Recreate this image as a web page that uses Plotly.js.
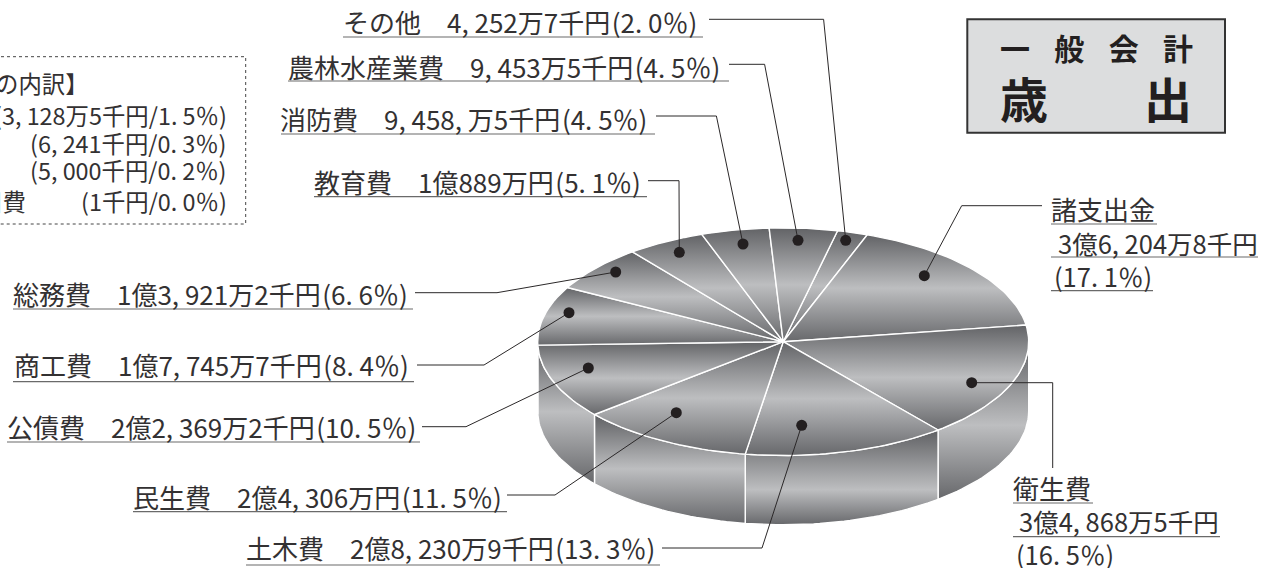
<!DOCTYPE html>
<html><head><meta charset="utf-8">
<script src="https://cdn.plot.ly/plotly-3.0.1.min.js"></script>
<style>html,body{margin:0;padding:0;background:#fff;overflow:hidden}</style>
</head><body><div id="chart" style="width:1273px;height:568px"></div>
<script>
// ---- data (clockwise from the top) ----
const categories = ["その他","諸支出金","衛生費","土木費","民生費","公債費","商工費","総務費","教育費","消防費","農林水産業費"];
const amounts = [4252.7,36204.8,34868.5,28230.9,24306,22369.2,17745.7,13921.2,10889,9458.5,9453.5];
const labelTexts = [
 "その他　4, 252万7千円\u200a(2. 0％)",
 null,null,
 "土木費　2億8, 230万9千円\u200a(13. 3％)",
 "民生費　2億4, 306万円\u200a(11. 5％)",
 "公債費　2億2, 369万2千円\u200a(10. 5％)",
 "商工費　1億7, 745万7千円\u200a(8. 4％)",
 "総務費　1億3, 921万2千円\u200a(6. 6％)",
 "教育費　1億889万円\u200a(5. 1％)",
 "消防費　9, 458, 万5千円\u200a(4. 5％)",
 "農林水産業費　9, 453万5千円\u200a(4. 5％)"
];
const stackedLabels = {
 1:["諸支出金","3億6, 204万8千円","(17. 1％)"],
 2:["衛生費","3億4, 868万5千円","(16. 5％)"]
};
const breakdownHead = "の内訳】";
const breakdownLines = ["(3, 128万5千円/1. 5％)","(6, 241千円/0. 3％)","(5, 000千円/0. 2％)","(1千円/0. 0％)"];
const breakdownTail = "旧費";

// ---- page geometry (pixels) ----
const cx=783.2, cy=341.7, rx=245.5, ry=113.8, depth=69.3, startDeg=77.2;
const ink="#2b2829", rule="#6a6a6a";
const textPos = [[343,21],null,null,[246,547],[133,496],[7,426],[14,364],[13,293],[314,181],[280,118],[288,66]];
const textSize = [26,0,0,26,26,26,26,26,26,26,26];
const underlines = [[343,703,37],null,null,[246,660,565],[133,507,511.7],[7,420,442],[13,414,381.7],[13,413,309],[314,647,196.7],[281,655,134],[288,729,81]];
const leaders = [
 [[709,823.6,845.7],[19.3,19.3,240.3]],
 [[1042,961.7,924.3],[205.7,205.7,275.7]],
 [[971.7,1052.7,1052.7],[382.7,382.7,468]],
 [[662,762,801.7],[548,548,425.3]],
 [[507,555,676.3],[495,495,412.7]],
 [[422,466,588.3],[426.7,426.7,368]],
 [[417,484,569],[365,365,312.7]],
 [[415,497,615.7],[292.7,292.7,272]],
 [[648,679,679.3],[180.7,180.7,252.3]],
 [[656,716.4,743],[116,116,244]],
 [[729,764.6,798],[64.3,64.3,240.3]]
];
const dots = leaders.map((l,i)=> i===2 ? [l[0][0],l[1][0]] : [l[0][2],l[1][2]]);
const stackPos = {1:[1051,[208,242,275],[[1051,1157,224],[1051,1258,257],[1051,1153,290.7]],[1051,1058,1054]],
                  2:[1013,[487,520,553],[[1013,1093,503],[1013,1220,536.7]],[1013,1019,1016]]};
const stackSize=[26,25.5,25.5];

const faceStops=[[0,"#67686b"],[0.5,"#bdbec0"],[1,"#626366"]];
const wallStops=l=>[[0,"#67686b"],[l,"#bdbec0"],[1,"#5f6063"]];

const total = amounts.reduce((a,b)=>a+b,0);
const pt = (deg)=>[cx+rx*Math.cos(deg*Math.PI/180), cy-ry*Math.sin(deg*Math.PI/180)];
function arc(a,b){const n=Math.max(2,Math.ceil(Math.abs(a-b)/1.5));const o=[];for(let i=0;i<=n;i++)o.push(pt(a+(b-a)*i/n));return o;}

const traces=[];
const bounds=[startDeg];
amounts.forEach(v=>bounds.push(bounds[bounds.length-1]-v/total*360));

const wallBand={2:0.47,3:0.37,4:0.5,5:0.52};
for(let i=0;i<amounts.length;i++){
  let a=Math.min(bounds[i],0), b=Math.max(bounds[i+1],-180);
  if(a<=b) continue;
  const top=arc(a,b), bot=top.slice().reverse().map(p=>[p[0],p[1]+depth]);
  const poly=top.concat(bot); poly.push(top[0]);
  traces.push({type:"scatter",mode:"lines",x:poly.map(p=>p[0]),y:poly.map(p=>p[1]),fill:"toself",
    fillgradient:{type:"vertical",colorscale:wallStops(wallBand[i]||0.5)},
    line:{color:"#ffffff",width:1.4},hoverinfo:"skip"});
}
for(let i=0;i<amounts.length;i++){
  const poly=[[cx,cy]].concat(arc(bounds[i],bounds[i+1])); poly.push([cx,cy]);
  traces.push({type:"scatter",mode:"lines",name:categories[i],x:poly.map(p=>p[0]),y:poly.map(p=>p[1]),fill:"toself",
    fillgradient:{type:"vertical",colorscale:faceStops},
    line:{color:"#ffffff",width:1.4},hoverinfo:"skip"});
}
leaders.forEach(l=>traces.push({type:"scatter",mode:"lines",x:l[0],y:l[1],line:{color:ink,width:1},hoverinfo:"skip"}));
underlines.forEach(u=>{if(u)traces.push({type:"scatter",mode:"lines",x:[u[0],u[1]],y:[u[2],u[2]],line:{color:rule,width:1.2},hoverinfo:"skip"});});
Object.values(stackPos).forEach(s=>s[2].forEach(u=>traces.push({type:"scatter",mode:"lines",x:[u[0],u[1]],y:[u[2],u[2]],line:{color:rule,width:1.2},hoverinfo:"skip"})));
traces.push({type:"scatter",mode:"markers",x:dots.map(d=>d[0]),y:dots.map(d=>d[1]),marker:{size:11,color:"#231f20"},hoverinfo:"skip"});

const F="'Noto Sans CJK JP','Noto Sans',sans-serif";
const ann=[];
const T=(text,x,y,size,anchor,color)=>ann.push({text,x,y,xref:"x",yref:"y",xanchor:anchor||"left",yanchor:"middle",showarrow:false,
  font:{family:F,size,color:color||"#333132"},borderpad:0,borderwidth:0});
labelTexts.forEach((t,i)=>{if(t)T(t,textPos[i][0],textPos[i][1],textSize[i]);});
Object.keys(stackedLabels).forEach(k=>{const s=stackPos[k];stackedLabels[k].forEach((t,j)=>T(t,s[3][j],s[1][j],stackSize[j]));});
// breakdown box (runs off the left edge of the picture)
const boxY=[115,143,170,201];
T(breakdownHead,89,83,23.4,"right");
breakdownLines.forEach((t,i)=>T(t,227,boxY[i],23.4,"right"));
T(breakdownTail,26,201,23.4,"right");
// title
T("<b>一\u2002\u2005\u200a般\u2002\u2005\u200a会\u2002\u2005\u200a計</b>",1096,47,30,"center","#231f20");
T("<b>歳\u3000\u3000出</b>",1096,97,48,"center","#231f20");

const boxRight=245.7, boxTop=56.7, boxBottom=224;
const shapes=[
 {type:"path",path:`M -5 ${boxTop} L ${boxRight} ${boxTop} L ${boxRight} ${boxBottom} L -5 ${boxBottom}`,xref:"x",yref:"y",line:{color:"#444",width:1,dash:"3px,3px"}},
 {type:"rect",x0:967.3,x1:1225,y0:19.3,y1:132.7,xref:"x",yref:"y",fillcolor:"#dcddde",line:{color:"#333",width:2},layer:"below"}
];
Plotly.newPlot("chart",traces,{
  width:1273,height:568,margin:{l:0,r:0,t:0,b:0},showlegend:false,hovermode:false,
  paper_bgcolor:"#fff",plot_bgcolor:"#fff",
  xaxis:{range:[0,1273],visible:false,fixedrange:true},
  yaxis:{range:[568,0],visible:false,fixedrange:true},
  annotations:ann,shapes
},{staticPlot:true,displayModeBar:false});
</script></body></html>
